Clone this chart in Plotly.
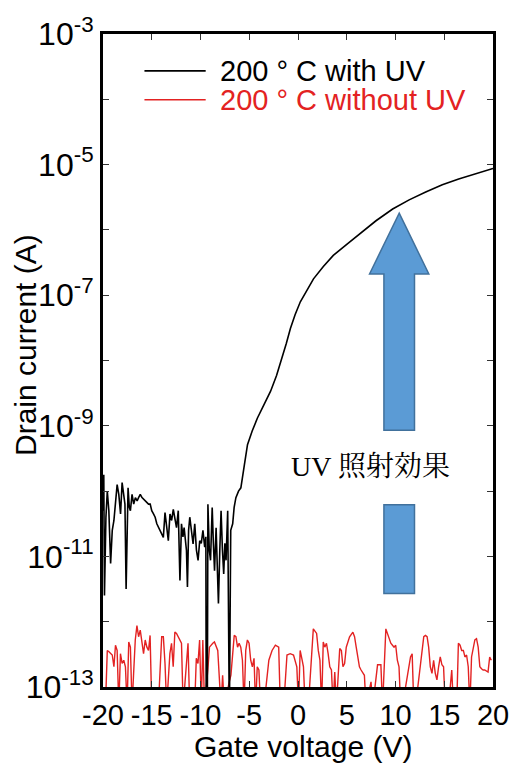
import plotly.graph_objects as go

# ---- data ----
vg_with_uv = [-20.0, -19.92, -19.85, -19.7, -19.56, -19.4, -19.22, -19.05, -18.88, -18.7, -18.55, -18.38,
              -18.2, -18.04, -17.87, -17.75, -17.63, -17.5, -17.43, -17.3, -17.19, -17.02, -16.85, -16.68,
              -16.5, -16.35, -16.18, -16.0, -15.85, -15.67, -15.5, -15.33, -15.16, -15.0, -14.82, -14.65,
              -14.48, -14.3, -14.14, -13.98, -13.81, -13.64, -13.47, -13.3, -13.13, -12.96, -12.79, -12.62,
              -12.46, -12.28, -12.11, -11.95, -11.8, -11.68, -11.55, -11.44, -11.34, -11.22, -11.1, -10.93,
              -10.76, -10.59, -10.42, -10.25, -10.08, -9.92, -9.75, -9.57, -9.45, -9.41, -9.3, -9.24, -9.1,
              -8.97, -8.8, -8.68, -8.56, -8.4, -8.28, -8.16, -8.02, -7.89, -7.75, -7.62, -7.5, -7.38, -7.21,
              -7.1, -7.04, -6.9, -6.7, -6.55, -6.37, -6.1, -5.86, -5.5, -5.18, -4.7, -4.16, -3.5, -2.81,
              -2.2, -1.62, -1.2, -0.78, -0.3, 0.24, 0.9, 1.59, 2.6, 3.62, 5.0, 6.33, 8.0, 9.71, 11.4, 13.1,
              14.8, 16.48, 18.2, 19.87, 20.0]
log_id_with_uv = [-10.3, -9.75, -11.6, -10.4, -10.0, -10.3, -11.11, -10.6, -10.45, -10.1, -9.9, -10.05,
                  -10.35, -9.87, -10.05, -10.2, -11.5, -10.3, -9.95, -10.25, -10.3, -10.05, -10.2, -10.1,
                  -10.15, -10.1, -10.05, -10.1, -10.12, -10.15, -10.18, -10.2, -10.2, -10.3, -10.35, -10.4,
                  -10.5, -10.55, -10.6, -10.65, -10.71, -10.33, -10.6, -10.76, -10.35, -10.45, -10.28, -10.4,
                  -10.56, -10.3, -11.37, -10.5, -10.7, -10.56, -10.75, -10.91, -11.47, -10.6, -10.4, -10.65,
                  -10.81, -10.5, -10.9, -11.06, -10.76, -10.8, -10.6, -10.86, -10.7, -13.5, -13.5, -10.2, -10.9,
                  -11.06, -10.25, -10.8, -11.22, -10.56, -11.0, -11.72, -10.9, -10.3, -10.9, -11.27, -10.8,
                  -11.06, -10.3, -13.5, -13.5, -10.6, -10.5, -10.25, -10.1, -10.0, -9.95, -9.6, -9.29, -9.08,
                  -8.88, -8.68, -8.47, -8.23, -7.96, -7.74, -7.51, -7.3, -7.1, -6.92, -6.75, -6.56, -6.39,
                  -6.22, -6.06, -5.86, -5.68, -5.54, -5.42, -5.31, -5.22, -5.14, -5.07, -5.06]

vg_without_uv = [-19.75, -19.56, -19.39, -19.05, -18.88, -18.72, -18.55, -18.38, -18.21, -18.04, -17.87,
                 -17.7, -17.53, -17.36, -17.19, -17.02, -16.86, -16.69, -16.52, -16.35, -16.18, -16.01,
                 -15.84, -15.67, -15.5, -15.33, -15.17, -15.0, -14.32, -13.98, -13.81, -13.64, -13.47,
                 -13.14, -12.97, -12.8, -12.63, -12.46, -12.29, -12.12, -11.95, -11.78, -11.28, -11.11,
                 -10.6, -10.43, -10.26, -10.09, -9.92, -9.76, -9.59, -9.25, -9.08, -8.74, -8.57, -8.23,
                 -7.9, -7.73, -7.56, -7.05, -6.88, -6.54, -6.37, -6.2, -6.04, -5.87, -5.7, -5.53, -5.36,
                 -5.19, -5.02, -4.85, -4.68, -4.51, -4.35, -4.18, -4.01, -3.84, -3.5, -2.99, -2.66, -2.32,
                 -1.98, -1.81, -1.47, -1.13, -0.8, -0.46, -0.12, 0.05, 0.22, 0.39, 0.56, 0.73, 1.06, 1.57,
                 1.91, 2.08, 2.25, 2.42, 2.59, 2.75, 2.92, 3.09, 3.26, 3.43, 3.6, 3.77, 3.94, 4.28, 4.45,
                 4.61, 4.78, 4.95, 5.29, 5.63, 5.8, 5.97, 6.14, 6.3, 6.47, 6.64, 6.81, 6.98, 7.49, 7.66,
                 8.16, 8.5, 8.67, 9.01, 9.18, 9.35, 9.52, 9.69, 9.85, 10.02, 10.19, 10.36, 10.53, 10.7,
                 11.54, 11.71, 11.88, 12.05, 12.73, 12.9, 13.07, 13.24, 13.4, 13.57, 13.74, 13.91, 14.08,
                 14.25, 14.42, 14.59, 14.76, 14.93, 15.1, 15.43, 15.77, 15.94, 16.28, 16.45, 16.62, 16.79,
                 16.96, 17.12, 17.29, 17.46, 17.63, 17.8, 18.14, 18.31, 18.48, 18.65, 18.82, 18.99, 19.15,
                 19.49, 19.66, 19.83]
log_id_without_uv = [-13.3, -12.44, -12.46, -12.51, -12.69, -12.36, -12.44, -13.3, -12.49, -12.64, -12.59,
                     -12.69, -13.3, -12.31, -12.39, -13.3, -12.79, -12.28, -12.06, -12.23, -12.13, -12.33,
                     -12.49, -12.28, -12.39, -12.44, -12.21, -13.3, -13.3, -12.23, -12.23, -12.64, -13.3,
                     -12.49, -12.33, -12.69, -12.16, -12.18, -12.23, -12.28, -12.33, -13.3, -12.33, -13.3,
                     -13.3, -12.56, -12.64, -12.28, -13.3, -12.28, -13.3, -12.74, -12.39, -12.33, -12.31,
                     -12.44, -13.3, -12.82, -13.3, -12.92, -12.82, -12.21, -12.23, -12.39, -12.33, -12.39,
                     -12.59, -13.3, -12.44, -12.28, -12.33, -12.59, -12.69, -12.56, -13.3, -12.69, -12.74,
                     -13.3, -13.3, -12.59, -12.44, -12.36, -12.39, -13.3, -13.3, -12.51, -12.49, -12.51,
                     -12.69, -13.3, -12.44, -12.56, -12.69, -13.3, -13.3, -12.11, -12.18, -12.44, -12.59,
                     -13.3, -12.31, -12.39, -12.33, -12.49, -12.69, -12.74, -13.3, -12.77, -13.3, -12.41,
                     -12.44, -12.69, -12.64, -12.39, -12.23, -12.16, -12.23, -12.39, -12.54, -12.69, -12.74,
                     -12.79, -12.82, -13.3, -12.92, -13.3, -12.66, -12.66, -13.3, -12.11, -12.18, -12.28,
                     -12.33, -12.36, -12.39, -12.36, -12.59, -12.69, -13.3, -13.3, -12.54, -12.49, -13.3,
                     -13.3, -12.44, -12.23, -12.21, -12.23, -12.39, -12.69, -12.79, -12.59, -12.79, -12.89,
                     -12.69, -12.54, -12.66, -12.69, -13.3, -13.3, -12.74, -13.3, -13.3, -12.33, -12.36,
                     -12.44, -12.44, -12.54, -12.51, -12.69, -13.3, -12.54, -12.28, -12.26, -12.39, -12.69,
                     -12.72, -12.74, -12.74, -12.77, -12.54, -12.59]

x_tick_vals = [-20, -15, -10, -5, 0, 5, 10, 15, 20]
x_tick_text = ["-20", "-15", "-10", "-5", "0", "5", "10", "15", "20"]
y_label_exponents = [-13, -11, -9, -7, -5, -3]
y_minor_exponents = [-12, -10, -8, -6, -4]
series_names = ["200 ° C with UV", "200 ° C without UV"]
series_colors = ["#000000", "#E32222"]

id_with_uv = [10 ** v for v in log_id_with_uv]
id_without_uv = [10 ** v for v in log_id_without_uv]

FONT = "Liberation Sans, Arial, sans-serif"

fig = go.Figure()
fig.add_trace(go.Scatter(x=vg_without_uv, y=id_without_uv, mode="lines", name=series_names[1],
                         line=dict(color=series_colors[1], width=1.4), showlegend=False))
fig.add_trace(go.Scatter(x=vg_with_uv, y=id_with_uv, mode="lines", name=series_names[0],
                         line=dict(color=series_colors[0], width=1.6), showlegend=False))

y_tick_vals = [10.0 ** e for e in y_label_exponents]
y_tick_text = ["10<sup>%d</sup>" % e for e in y_label_exponents]
y_minor_vals = [10.0 ** e for e in y_minor_exponents]

axis_common = dict(showline=True, linecolor="black", linewidth=3, mirror="allticks",
                   ticks="inside", ticklen=6, tickwidth=1.2, tickcolor="#333333",
                   showgrid=False, zeroline=False)

fig.update_xaxes(range=[-20, 20], tickmode="array", tickvals=x_tick_vals, ticktext=x_tick_text,
                 tickfont=dict(family=FONT, size=29, color="black"), **axis_common)
fig.update_yaxes(type="log", range=[-13, -3], tickmode="array", tickvals=y_tick_vals,
                 ticktext=y_tick_text, tickfont=dict(family=FONT, size=32, color="black"),
                 minor=dict(tickmode="array", tickvals=y_minor_vals, ticks="inside", ticklen=6,
                            tickwidth=1.2, tickcolor="#333333", showgrid=False),
                 **axis_common)

# UV arrow (decoration, in paper coordinates)
arrow_path = ("M 0.7595 0.7256 L 0.8354 0.6326 L 0.7987 0.6326 L 0.7987 0.3933 "
              "L 0.7203 0.3933 L 0.7203 0.6326 L 0.6835 0.6326 Z")
fig.add_shape(type="path", path=arrow_path, xref="paper", yref="paper",
              fillcolor="#5B9BD5", line=dict(color="#41719C", width=1.5))
fig.add_shape(type="rect", x0=0.7203, x1=0.7987, y0=0.1433, y1=0.2790, xref="paper", yref="paper",
              fillcolor="#5B9BD5", line=dict(color="#41719C", width=1.5))

# legend drawn by hand
legend_rows = [0.9436, 0.8994]
for name, color, yy in zip(series_names, series_colors, legend_rows):
    fig.add_shape(type="line", x0=0.1063, x1=0.2633, y0=yy, y1=yy, xref="paper", yref="paper",
                  line=dict(color=color, width=1.6))
    fig.add_annotation(x=0.296, y=yy, xref="paper", yref="paper", text=name, showarrow=False,
                       xanchor="left", yanchor="middle",
                       font=dict(family=FONT, size=29, color=color))

fig.add_annotation(x=0.686, y=0.337, xref="paper", yref="paper", text="UV 照射効果", showarrow=False,
                   xanchor="center", yanchor="middle",
                   font=dict(family="Liberation Serif, Noto Serif CJK JP, Noto Sans CJK JP", size=28,
                             color="black"))

# axis titles
fig.add_annotation(x=-0.197, y=0.524, xref="paper", yref="paper", text="Drain current (A)",
                   showarrow=False, textangle=-90, xanchor="center", yanchor="middle",
                   font=dict(family=FONT, size=30, color="black"))
fig.add_annotation(x=0.514, y=-0.0915, xref="paper", yref="paper", text="Gate voltage (V)",
                   showarrow=False, xanchor="center", yanchor="middle",
                   font=dict(family=FONT, size=30, color="black"))

fig.update_layout(width=521, height=773, margin=dict(l=103, r=23, t=31, b=86),
                  paper_bgcolor="white", plot_bgcolor="white", showlegend=False)

fig.write_html("out.html")
